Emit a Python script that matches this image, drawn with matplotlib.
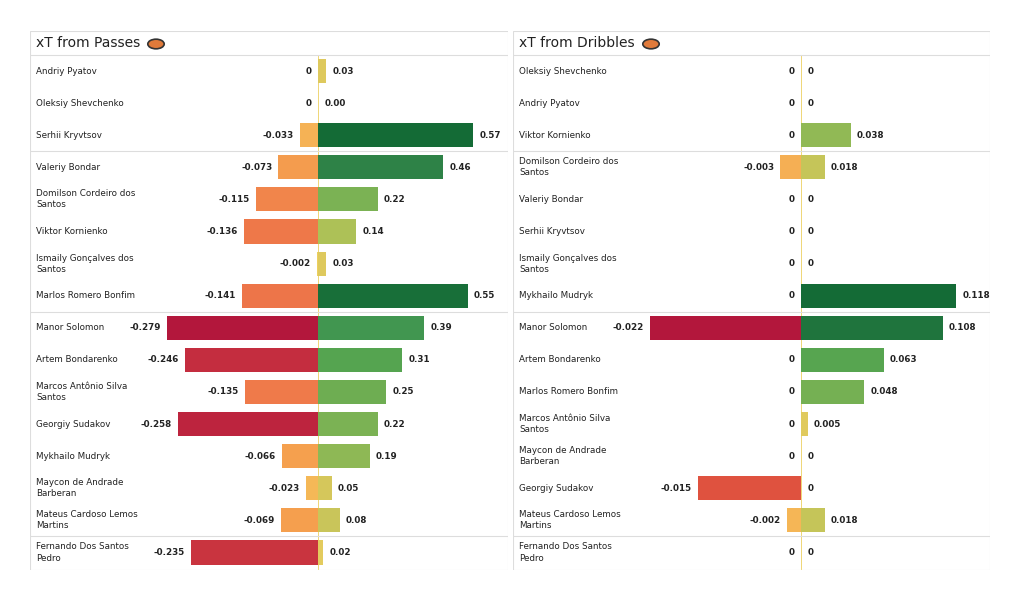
import matplotlib
matplotlib.use("Agg")
import matplotlib.pyplot as plt
from matplotlib.colors import LinearSegmentedColormap
from matplotlib.patches import Rectangle, Circle

pass_names = ["Andriy Pyatov", "Oleksiy Shevchenko", "Serhii Kryvtsov", "Valeriy Bondar",
              "Domilson Cordeiro dos\nSantos", "Viktor Kornienko", "Ismaily Gonçalves dos\nSantos",
              "Marlos Romero Bonfim", "Manor Solomon", "Artem Bondarenko",
              "Marcos Antônio Silva\nSantos", "Georgiy Sudakov", "Mykhailo Mudryk",
              "Maycon de Andrade\nBarberan", "Mateus Cardoso Lemos\nMartins", "Fernando Dos Santos\nPedro"]
pass_neg = [0, 0, -0.033, -0.073, -0.115, -0.136, -0.002, -0.141, -0.279, -0.246, -0.135, -0.258, -0.066, -0.023, -0.069, -0.235]
pass_pos = [0.03, 0.00, 0.57, 0.46, 0.22, 0.14, 0.03, 0.55, 0.39, 0.31, 0.25, 0.22, 0.19, 0.05, 0.08, 0.02]

drib_names = ["Oleksiy Shevchenko", "Andriy Pyatov", "Viktor Kornienko", "Domilson Cordeiro dos\nSantos",
              "Valeriy Bondar", "Serhii Kryvtsov", "Ismaily Gonçalves dos\nSantos", "Mykhailo Mudryk",
              "Manor Solomon", "Artem Bondarenko", "Marlos Romero Bonfim", "Marcos Antônio Silva\nSantos",
              "Maycon de Andrade\nBarberan", "Georgiy Sudakov", "Mateus Cardoso Lemos\nMartins",
              "Fernando Dos Santos\nPedro"]
drib_neg = [0, 0, 0, -0.003, 0, 0, 0, 0, -0.022, 0, 0, 0, 0, -0.015, -0.002, 0]
drib_pos = [0, 0, 0.038, 0.018, 0, 0, 0, 0.118, 0.108, 0.063, 0.048, 0.005, 0, 0, 0.018, 0]

group_breaks = [2, 7, 14]

cmap = LinearSegmentedColormap.from_list("xt", [
    (0.0, "#b3173c"), (0.06, "#c42d3f"), (0.16, "#e0533f"), (0.26, "#ef7a4a"),
    (0.38, "#f5a04e"), (0.47, "#f5bb58"), (0.5, "#ecd060"),
    (0.53, "#dcc85c"), (0.62, "#b0c257"), (0.69, "#7db354"), (0.77, "#56a550"),
    (0.85, "#3f9550"), (0.92, "#2a7d45"), (1.0, "#146b36")])

fig = plt.figure(figsize=(10.24, 6.02), dpi=100)
W, H = 1024, 602

def panel(x0, x1, title, names, neg, pos, posfmt):
    ax = fig.add_axes([x0 / W, (H - 570) / H, (x1 - x0) / W, (570 - 31) / H])
    step = 32.1
    ax.set_ylim((570 - 71) / step, (31 - 71) / step)
    zero_px = 318 - 30
    u = 155.0
    ax.set_xlim(-zero_px / u, (x1 - x0 - zero_px) / u)
    ax.axis("off")
    ax.add_patch(Rectangle((0, 0), 1, 1, transform=ax.transAxes, fill=False, ec="#dddddd", lw=0.8))
    ax.axhline(-0.5, color="#dddddd", lw=0.8)
    for b in group_breaks:
        ax.axhline(b + 0.5, color="#dddddd", lw=0.8)
    ax.plot([0, 0], [-0.5, len(names) - 0.5], color="#ecd060", lw=0.6, zorder=1)
    xl = ax.get_xlim()[0]
    ax.text(xl + 0.04, -0.87, title, fontsize=10, va="center", ha="left", color="#222222")
    mn = max(abs(v) for v in neg)
    mp = max(pos)
    for i, (nm, n, p) in enumerate(zip(names, neg, pos)):
        ax.text(xl + 0.04, i, nm, fontsize=6.3, va="center", ha="left", color="#222222", linespacing=1.3)
        nn = abs(n) / mn * 0.975
        pp = p / mp * 1.0
        if n != 0:
            ax.barh(i, -nn, height=0.75, color=cmap(0.5 - 0.5 * abs(n) / mn), zorder=2)
        if p != 0:
            ax.barh(i, pp, height=0.75, color=cmap(0.5 + 0.5 * p / mp), zorder=2)
        ax.text(-nn - 0.04, i, "0" if n == 0 else f"{n:.3f}", fontsize=6.3, fontweight="bold",
                ha="right", va="center", color="#222222")
        ax.text(pp + 0.04, i, posfmt(p), fontsize=6.3, fontweight="bold",
                ha="left", va="center", color="#222222")
    return ax

axL = panel(30, 508, "xT from Passes", pass_names, pass_neg, pass_pos, lambda v: f"{v:.2f}")
axR = panel(513, 990, "xT from Dribbles", drib_names, drib_neg, drib_pos, lambda v: "0" if v == 0 else f"{v:.3f}")

for ax, cx in [(axL, 156), (axR, 651)]:
    fig.patches.append(Circle((cx / W, (H - 44) / H), 0.008, transform=fig.transFigure,
                              fc="#e07a3a", ec="#333333", lw=1.2))

fig.savefig("out.png", dpi=100)
